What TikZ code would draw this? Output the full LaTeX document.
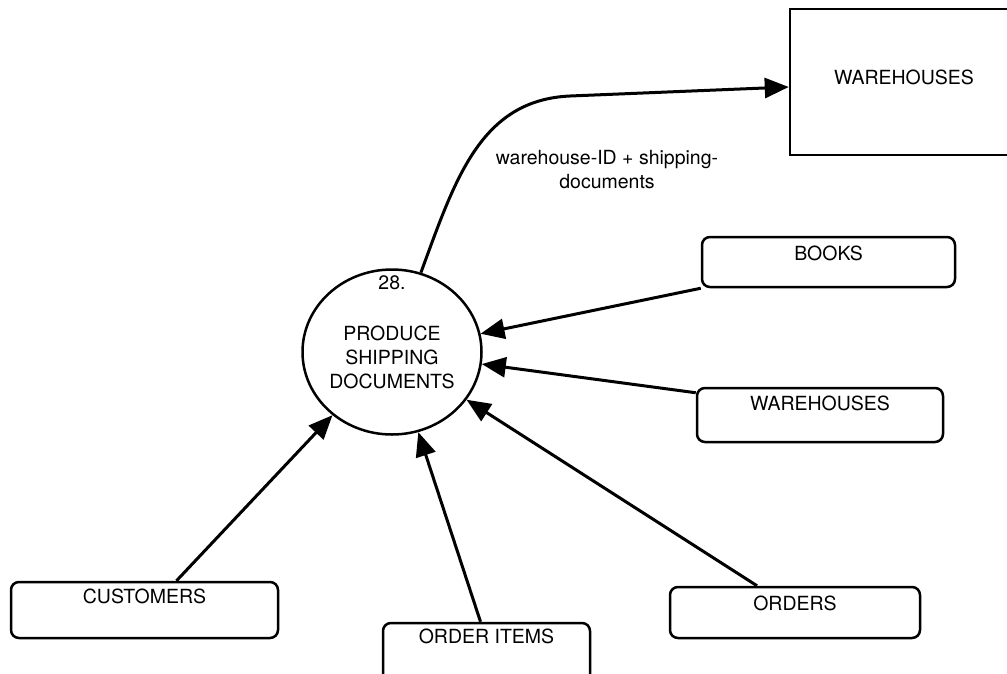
\documentclass[tikz,border=0pt]{standalone}
\usepackage{fontspec}
\setmainfont{TeX Gyre Heros}
\usetikzlibrary{arrows.meta,shapes.geometric}
\begin{document}
\begin{tikzpicture}[x=1pt,y=-1pt,
  every node/.style={font=\fontsize{19.5pt}{24pt}\selectfont},
  store/.style={draw,line width=2.5pt,rounded corners=8pt,inner sep=0pt},
  entity/.style={draw,line width=2.5pt,inner sep=0pt},
  proc/.style={draw,ellipse,line width=2.5pt,inner sep=0pt,minimum width=179pt,minimum height=165pt},
  txt/.style={inner sep=0pt,align=center},
  flow/.style={line width=3pt,-{Triangle[length=24pt,width=20pt]}}]
\path[use as bounding box] (0,0) rectangle (1007,673);

% process
\node[proc] (proc) at (392,352) {};
\node[txt] (num) at ([yshift=69pt]proc.center) {28.};
\node[txt] (ptext) at ([yshift=-5pt]proc.center) {PRODUCE\\SHIPPING\\DOCUMENTS};

% external entity (top right)
\node[entity,minimum width=228pt,minimum height=146pt] (wh) at (904,82) {};
\node[txt] (whT) at ([yshift=5pt]wh.center) {WAREHOUSES};

% data stores
\node[store,minimum width=253pt,minimum height=50pt] (books) at (828.5,262) {};
\node[txt] (booksT) at ([yshift=-18pt]books.north) {BOOKS};

\node[store,minimum width=246pt,minimum height=54pt] (wh2) at (820,415) {};
\node[txt] (wh2T) at ([yshift=-17pt]wh2.north) {WAREHOUSES};

\node[store,minimum width=267pt,minimum height=56pt] (cust) at (144.5,610) {};
\node[txt] (custT) at ([yshift=-16pt]cust.north) {CUSTOMERS};

\node[store,minimum width=207pt,minimum height=70pt] (oi) at (486.5,658) {};
\node[txt] (oiT) at ([yshift=-15pt]oi.north) {ORDER ITEMS};

\node[store,minimum width=250pt,minimum height=51pt] (ord) at (795,612.5) {};
\node[txt] (ordT) at ([yshift=-18pt]ord.north) {ORDERS};

% flows
\draw[flow] (proc.70) .. controls (455,180) and (480,100) .. (570,96) -- ([yshift=-5pt]wh.west);
\node[txt] (lab) at (607,170) {warehouse-ID + shipping-\\documents};

\draw[flow] (books.south west) -- (proc);
\draw[flow] ([yshift=-6pt]wh2.north west) -- (proc);
\draw[flow] ([xshift=-38pt]ord.north) -- (proc);
\draw[flow] ([xshift=-6pt]oi.north) -- (proc);
\draw[flow] ([xshift=32pt]cust.north) -- (proc);
\end{tikzpicture}
\end{document}
